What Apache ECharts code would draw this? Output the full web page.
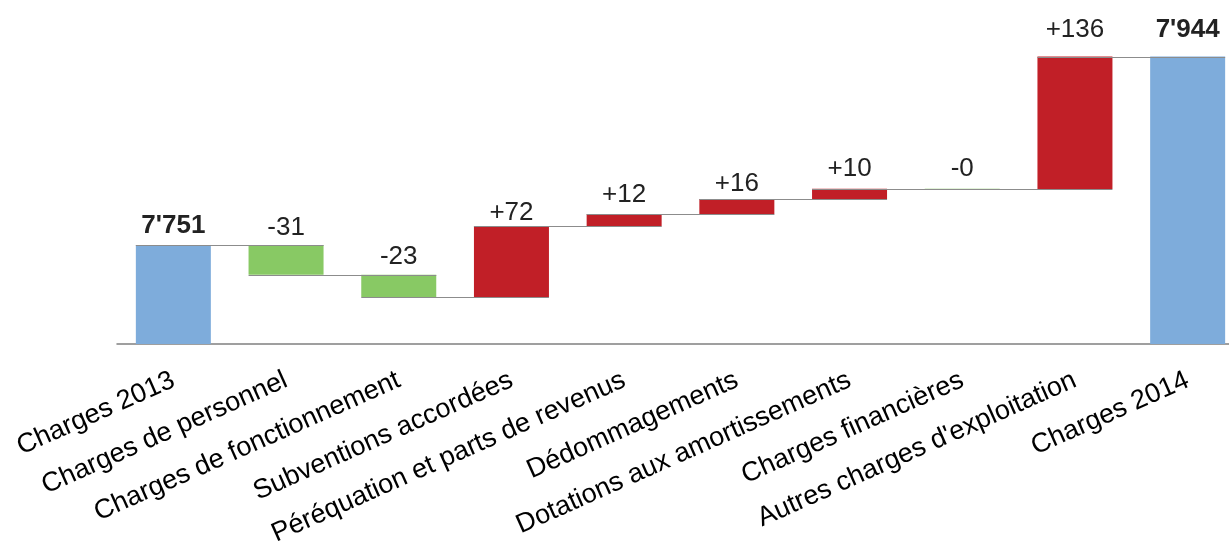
<!DOCTYPE html>
<html>
<head>
<meta charset="utf-8">
<script src="https://cdn.jsdelivr.net/npm/echarts@6/dist/echarts.min.js"></script>
<style>html,body{margin:0;padding:0;background:#fff;overflow:hidden}#c{width:1244px;height:549px}</style>
</head>
<body>
<div id="c"></div>
<script>
var categories = ["Charges 2013", "Charges de personnel", "Charges de fonctionnement", "Subventions accordées", "Péréquation et parts de revenus", "Dédommagements", "Dotations aux amortissements", "Charges financières", "Autres charges d'exploitation", "Charges 2014"];
var startTotal = 7751.4;
var deltas = [-30.6, -22.8, 72.4, 12.3, 15.7, 10.4, -0.2, 135.5];
var endTotal = 7944.1;
var yMin = 7650, yMax = 8000;

// styling: label gap above each bar (px)
var labelGaps = [6.5, 4.5, 4.5, 0.5, 6.5, 2.5, 7.5, 7.5, 13.5, 13.5];

var FONT = "'Liberation Sans', Arial, Helvetica, sans-serif";
var BLUE = '#7eacdb', GREEN = '#88c964', RED = '#c11f27';

var levels = [startTotal];
deltas.forEach(function (d, i) { levels.push(levels[i] + d); });
levels.push(endTotal);

function fmtTotal(v) { var s = String(Math.round(v)); return s.slice(0, s.length - 3) + "'" + s.slice(-3); }
function fmtDelta(v) { return (v < 0 ? '-' : '+') + Math.round(Math.abs(v)); }

var n = categories.length;
var stackBase = [], stackTop = [], totals = [];
for (var k = 0; k < n; k++) { stackBase.push('-'); stackTop.push('-'); totals.push('-'); }
totals[0] = { value: startTotal, itemStyle: { color: BLUE }, label: { formatter: fmtTotal(startTotal), fontWeight: 'bold', distance: labelGaps[0] } };
totals[n - 1] = { value: endTotal, itemStyle: { color: BLUE }, label: { formatter: fmtTotal(endTotal), fontWeight: 'bold', distance: labelGaps[n - 1] } };
deltas.forEach(function (d, i) {
  var before = levels[i], after = levels[i + 1];
  stackBase[i + 1] = Math.min(before, after);
  stackTop[i + 1] = { value: Math.abs(d), itemStyle: { color: d < 0 ? GREEN : RED }, label: { formatter: fmtDelta(d), distance: labelGaps[i + 1] } };
});

var connData = [];
for (var i = 0; i < n - 1; i++) connData.push([i, levels[i]]);

var BW = 75;
var chart = echarts.init(document.getElementById('c'), null, { renderer: 'canvas' });
chart.setOption({
  animation: false,
  textStyle: { fontFamily: FONT },
  grid: { left: 117, right: 0, top: 2, bottom: 205, containLabel: false },
  xAxis: {
    type: 'category',
    data: categories,
    axisLine: { lineStyle: { color: '#808080', width: 1.5 } },
    axisTick: { show: false },
    axisLabel: { rotate: 24, fontSize: 27, color: '#000', margin: 35, fontFamily: FONT, interval: 0 }
  },
  yAxis: {
    type: 'value', min: yMin, max: yMax,
    show: false, splitLine: { show: false }
  },
  series: [
    {
      type: 'bar', stack: 's', barWidth: BW, data: stackBase,
      itemStyle: { color: 'transparent' }, silent: true
    },
    {
      type: 'bar', stack: 's', barWidth: BW, data: stackTop,
      label: { show: true, position: 'top', fontSize: 26, color: '#222', fontFamily: FONT }
    },
    {
      type: 'bar', barWidth: BW, barGap: '-100%', data: totals,
      label: { show: true, position: 'top', fontSize: 26, color: '#222', fontFamily: FONT }
    },
    {
      type: 'custom', z: 10, silent: true,
      data: connData,
      encode: { x: 0, y: 1 },
      renderItem: function (params, api) {
        var i = api.value(0), lv = api.value(1);
        var p1 = api.coord([i, lv]);
        var p2 = api.coord([i + 1, lv]);
        var y = Math.round(p1[1]) + 0.5;
        return {
          type: 'line',
          shape: { x1: p1[0] - BW / 2, y1: y, x2: p2[0] + BW / 2, y2: y },
          style: { stroke: '#8c8c8c', lineWidth: 1 }
        };
      }
    }
  ]
});
</script>
</body>
</html>
